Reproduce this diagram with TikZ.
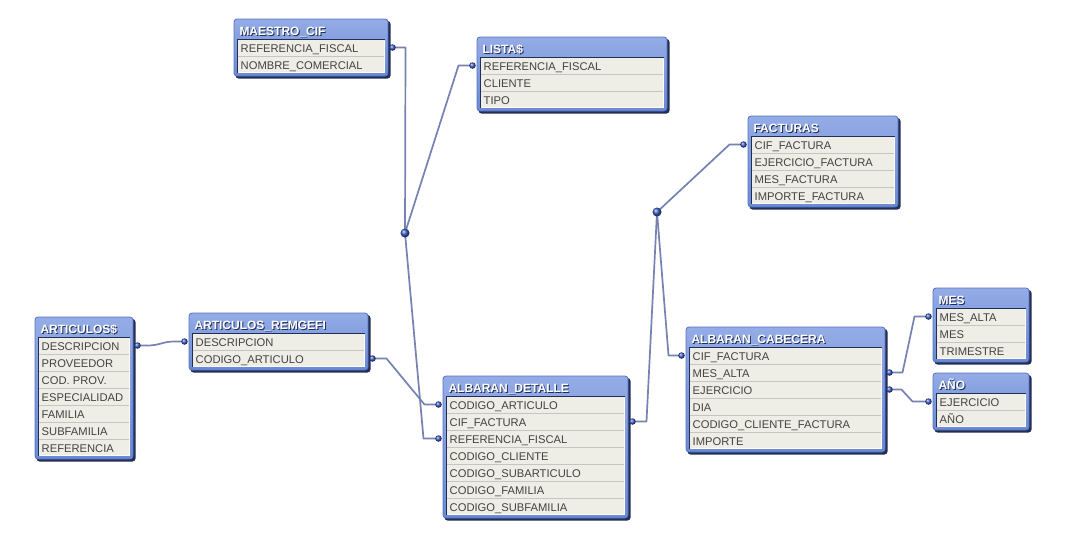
\documentclass[tikz,border=0pt]{standalone}
\usepackage{fontspec}
\setmainfont{Liberation Sans}
\usetikzlibrary{calc}
\definecolor{frametop}{RGB}{148,172,230}
\definecolor{framebot}{RGB}{106,138,212}
\definecolor{frameedge}{RGB}{86,114,194}
\definecolor{tshadowc}{RGB}{34,46,86}
\definecolor{rowbg}{RGB}{239,238,230}
\definecolor{sepc}{RGB}{198,198,192}
\definecolor{rowtextc}{RGB}{66,66,66}
\definecolor{linkc}{RGB}{118,130,178}
\definecolor{dotc}{RGB}{56,90,192}
\tikzset{
  rowbox/.style={inner sep=0pt, minimum height=17pt, anchor=north west},
  rowtxt/.style={anchor=base west, inner sep=0pt, text=rowtextc, font=\fontsize{11.2}{13}\selectfont},
  titletxt/.style={anchor=base west, inner sep=0pt, text=white, font=\fontsize{12}{14}\selectfont\bfseries},
  titleshadow/.style={titletxt, text=tshadowc},
  link/.style={draw=linkc, line width=1.7pt, line join=round, line cap=round},
  portdot/.style={ball color=dotc, circle, inner sep=0pt, minimum size=6.5pt},
  hubdot/.style={ball color=dotc, circle, inner sep=0pt, minimum size=9pt},
}
% #1 id, #2 left, #3 top, #4 right, #5 title, #6 number of rows, #7 rows
\newcommand\dbtable[7]{%
  \pgfmathsetmacro\tB{#3+23+17*#6}%
  \pgfmathsetmacro\tW{#4-#2-6}%
  \fill[tshadowc, rounded corners=3pt] ({#2+1.5},{#3+2}) rectangle ({#4+2.5},{\tB+2.5});
  \path[top color=frametop, bottom color=framebot, draw=frameedge, line width=0.8pt, rounded corners=3pt] (#2,#3) rectangle (#4,\tB);
  \node[titleshadow] (#1-ts) at ({#2+6.3},{#3+17.7}) {#5};
  \node[titletxt] (#1-tt) at ({#2+5.3},{#3+16.7}) {#5};
  \fill[rowbg] ({#2+3},{#3+20}) rectangle ({#4-3},{\tB-3});
  \foreach \r [count=\i] in {#7} {
    \node[rowbox, minimum width=\tW pt] (#1-\i) at ({#2+3},{#3+20+17*(\i-1)}) {};
    \node[rowtxt] (#1-\i-t) at ({#2+6.5},{#3+33+17*(\i-1)}) {\r};
    \coordinate (#1-\i-l) at ({#2-4.5},{#3+28.5+17*(\i-1)});
    \coordinate (#1-\i-r) at ({#4+4.5},{#3+28.5+17*(\i-1)});
    \ifnum\i>1 \draw[sepc, line width=0.9pt] (#1-\i.north west) -- (#1-\i.north east);\fi
  }
  \draw[tshadowc, line width=1.4pt] ({#2+3.7},{\tB-3}) -- ({#2+3.7},{#3+20.7}) -- ({#4-3},{#3+20.7});
  \draw[white!85!rowbg, line width=0.6pt] ({#4-3.3},{#3+21.5}) -- ({#4-3.3},{\tB-3.3}) -- ({#2+4.5},{\tB-3.3});
}
\begin{document}
\begin{tikzpicture}[x=1pt, y=-1pt]
\fill[white] (0,0) rectangle (1065,536);
\useasboundingbox (0,0) rectangle (1065,536);

\dbtable{MC}{234}{19}{388}{MAESTRO\_CIF}{2}{REFERENCIA\_FISCAL,NOMBRE\_COMERCIAL}
\dbtable{LI}{477}{37}{667}{LISTA\$}{3}{REFERENCIA\_FISCAL,CLIENTE,TIPO}
\dbtable{FA}{748}{116}{898}{FACTURAS}{4}{CIF\_FACTURA,EJERCICIO\_FACTURA,MES\_FACTURA,IMPORTE\_FACTURA}
\dbtable{AC}{686}{327}{885}{ALBARAN\_CABECERA}{6}{CIF\_FACTURA,MES\_ALTA,EJERCICIO,DIA,CODIGO\_CLIENTE\_FACTURA,IMPORTE}
\dbtable{ME}{933}{288}{1029}{MES}{3}{MES\_ALTA,MES,TRIMESTRE}
\dbtable{AN}{933}{373}{1029}{AÑO}{2}{EJERCICIO,AÑO}
\dbtable{AD}{443}{376}{628}{ALBARAN\_DETALLE}{7}{CODIGO\_ARTICULO,CIF\_FACTURA,REFERENCIA\_FISCAL,CODIGO\_CLIENTE,CODIGO\_SUBARTICULO,CODIGO\_FAMILIA,CODIGO\_SUBFAMILIA}
\dbtable{AR}{189}{313}{368}{ARTICULOS\_REMGEFI}{2}{DESCRIPCION,CODIGO\_ARTICULO}
\dbtable{AS}{35}{317}{133}{ARTICULOS\$}{7}{DESCRIPCION,PROVEEDOR,COD. PROV.,ESPECIALIDAD,FAMILIA,SUBFAMILIA,REFERENCIA}

\coordinate (h1) at (405,233);
\coordinate (h2) at (657,212);

% connectors
\draw[link] (MC-1-r) -- ++(13,0) -- (h1);
\draw[link] (LI-1-l) -- ++(-14,0) -- (h1);
\draw[link] (h1) -- ($(AD-3-l)+(-15,0)$) -- (AD-3-l);
\draw[link] (AR-2-r) -- ++(14,0) -- ($(AD-1-l)+(-14,0)$) -- (AD-1-l);
\draw[link] (AS-1-r) -- ++(10,0) .. controls +(12,0) and +(-12,0) .. ($(AR-1-l)+(-10,0)$) -- (AR-1-l);
\draw[link] (AD-2-r) -- ++(14,0) -- (h2);
\draw[link] (h2) -- ($(FA-1-l)+(-14,0)$) -- (FA-1-l);
\draw[link] (h2) -- ($(AC-1-l)+(-13,0)$) -- (AC-1-l);
\draw[link] (AC-2-r) -- ++(13,0) -- ($(ME-1-l)+(-14,0)$) -- (ME-1-l);
\draw[link] (AC-3-r) -- ++(12,0) -- ($(AN-1-l)+(-16,0)$) -- (AN-1-l);

% dots
\node[hubdot] (H1) at (h1) {};
\node[hubdot] (H2) at (h2) {};
\node[portdot] (p1) at (MC-1-r) {};
\node[portdot] (p2) at (LI-1-l) {};
\node[portdot] (p3) at (AD-3-l) {};
\node[portdot] (p4) at (AR-2-r) {};
\node[portdot] (p5) at (AD-1-l) {};
\node[portdot] (p6) at (AS-1-r) {};
\node[portdot] (p7) at (AR-1-l) {};
\node[portdot] (p8) at (AD-2-r) {};
\node[portdot] (p9) at (FA-1-l) {};
\node[portdot] (p10) at (AC-1-l) {};
\node[portdot] (p11) at (AC-2-r) {};
\node[portdot] (p12) at (ME-1-l) {};
\node[portdot] (p13) at (AC-3-r) {};
\node[portdot] (p14) at (AN-1-l) {};
\end{tikzpicture}
\end{document}
